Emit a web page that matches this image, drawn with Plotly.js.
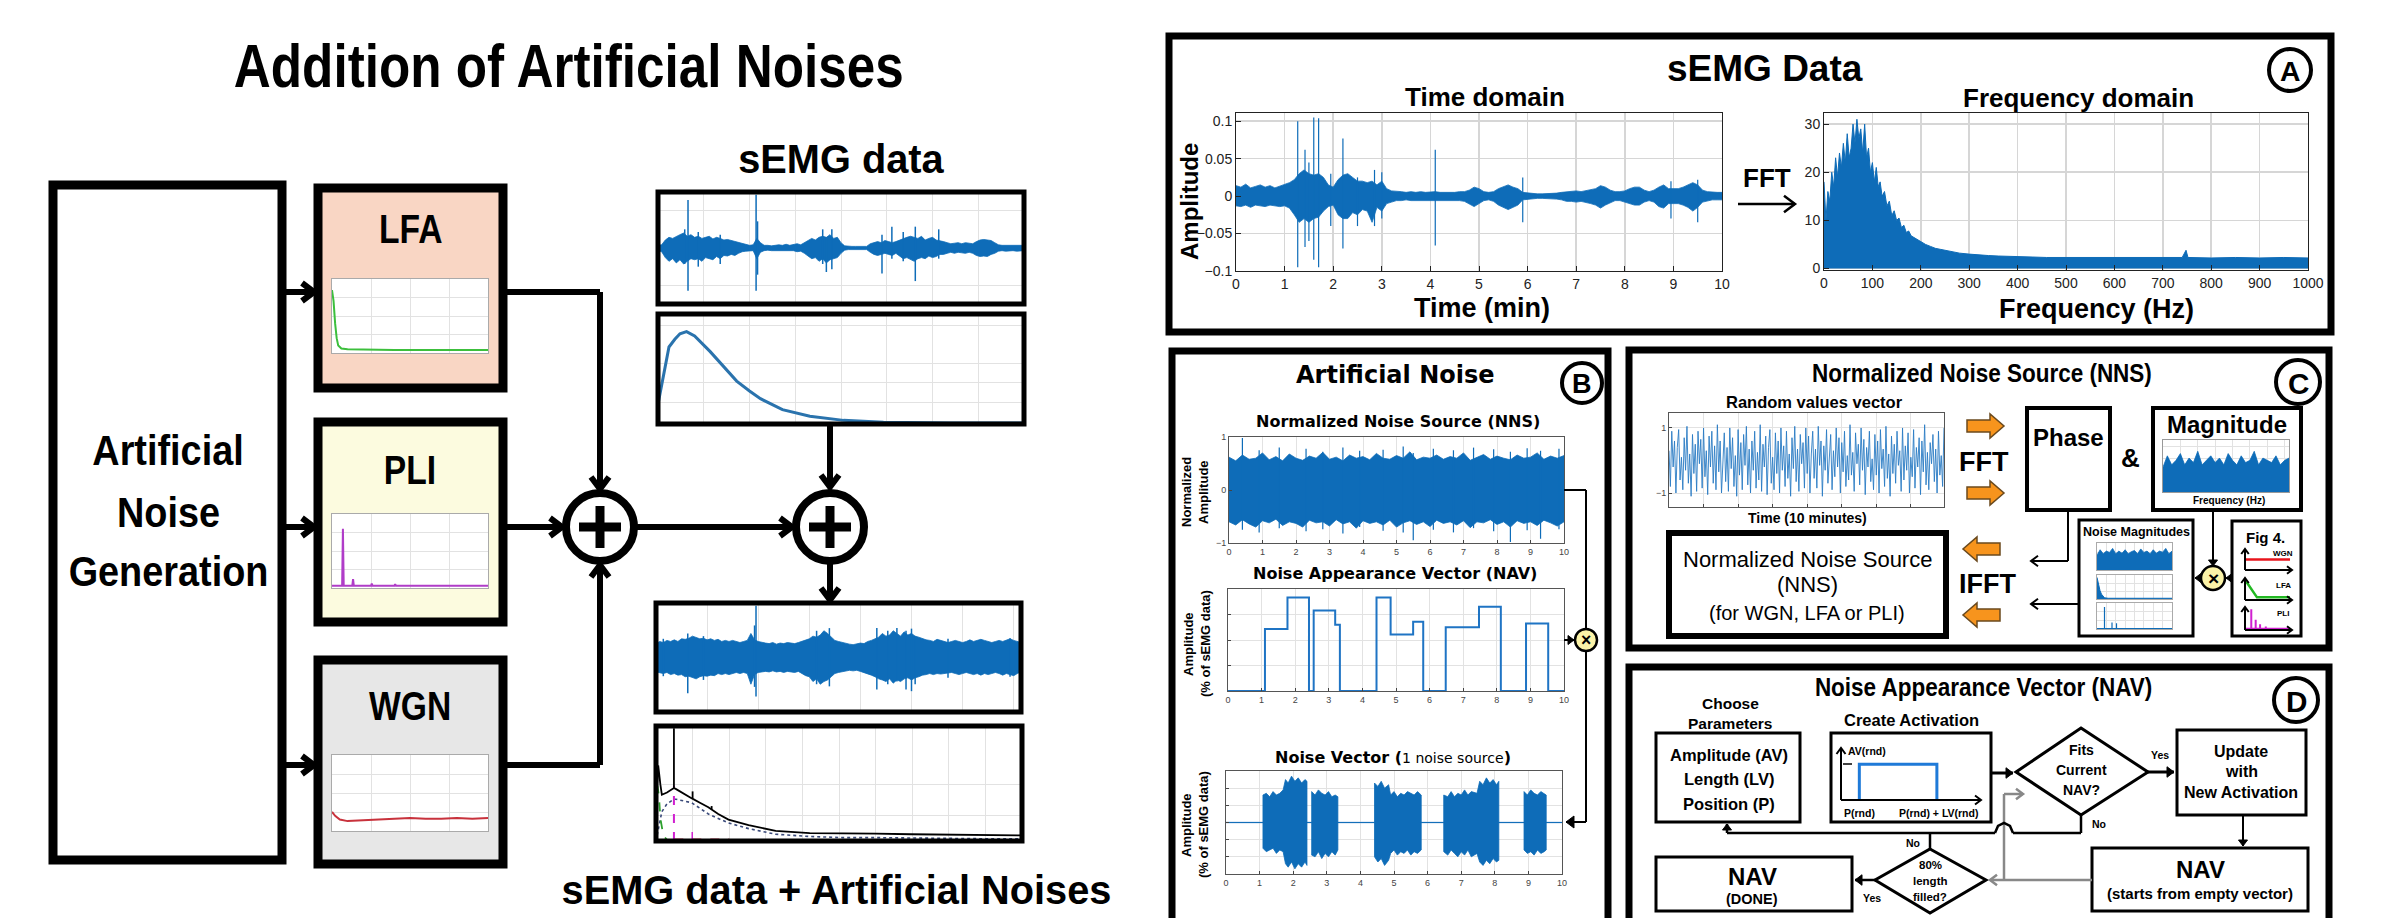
<!DOCTYPE html>
<html><head><meta charset="utf-8">
<script src="https://cdn.plot.ly/plotly-3.0.1.min.js"></script>
<style>html,body{margin:0;padding:0;background:#fff;}#chart{width:2386px;height:918px;}</style>
</head><body><div id="chart"></div>
<script>
// ---------------- DATA ----------------
// Panel A: sEMG time domain (envelope every 0.1 min) + isolated spikes
const aTimeHi=[0.014,0.012,0.016,0.011,0.013,0.015,0.012,0.014,0.011,0.013,0.015,
0.018,0.022,0.03,0.035,0.03,0.028,0.03,0.025,0.015,0.012,
0.022,0.028,0.03,0.025,0.02,0.02,0.018,0.02,0.015,0.02,
0.01,0.007,0.006,0.006,0.005,0.006,0.005,0.006,0.005,0.006,
0.006,0.005,0.005,0.004,0.005,0.006,0.006,0.008,0.012,0.01,
0.006,0.005,0.006,0.01,0.013,0.015,0.012,0.01,0.005,0.004,
0.003,0.003,0.003,0.003,0.003,0.004,0.005,0.006,0.007,0.007,
0.006,0.007,0.008,0.01,0.014,0.012,0.008,0.006,0.006,0.007,
0.01,0.012,0.012,0.008,0.006,0.008,0.012,0.015,0.01,0.01,
0.01,0.012,0.015,0.018,0.015,0.008,0.006,0.005,0.005,0.005];
const aTimeLo=[-0.013,-0.014,-0.012,-0.015,-0.012,-0.013,-0.014,-0.012,-0.013,-0.014,-0.013,
-0.016,-0.025,-0.035,-0.03,-0.035,-0.03,-0.028,-0.02,-0.014,-0.012,
-0.025,-0.03,-0.03,-0.022,-0.025,-0.018,-0.02,-0.035,-0.015,-0.02,
-0.01,-0.008,-0.006,-0.006,-0.005,-0.006,-0.006,-0.005,-0.006,-0.006,
-0.006,-0.005,-0.005,-0.005,-0.005,-0.006,-0.007,-0.01,-0.014,-0.01,
-0.006,-0.005,-0.007,-0.012,-0.015,-0.018,-0.015,-0.012,-0.005,-0.004,
-0.003,-0.003,-0.003,-0.003,-0.004,-0.004,-0.005,-0.007,-0.007,-0.008,
-0.007,-0.008,-0.01,-0.012,-0.016,-0.012,-0.009,-0.006,-0.006,-0.008,
-0.01,-0.012,-0.012,-0.008,-0.006,-0.008,-0.014,-0.016,-0.01,-0.01,
-0.01,-0.012,-0.015,-0.02,-0.015,-0.008,-0.006,-0.005,-0.005,-0.005];
const aSpikeX=[1.27,1.42,1.5,1.6,1.7,1.95,2.2,2.5,2.85,3.0,4.1,5.9,8.95,9.5];
const aSpikeHi=[0.1,0.062,0.045,0.105,0.104,0.03,0.077,0.025,0.035,0.032,0.062,0.025,0.02,0.022];
const aSpikeLo=[-0.095,-0.068,-0.06,-0.085,-0.095,-0.04,-0.07,-0.04,-0.04,-0.03,-0.066,-0.035,-0.03,-0.035];
const aTimeYTicks=[-0.1,-0.05,0,0.05,0.1];
// Panel A: frequency domain
const aFreqX=[0,4,8,12,16,20,24,28,32,36,40,44,48,52,56,60,64,68,72,76,80,84,88,92,96,100,104,108,112,116,120,125,130,135,140,145,150,155,160,165,170,175,180,190,200,210,220,230,240,250,265,280,300,320,340,360,380,400,430,460,500,540,580,620,660,700,740,748,752,800,850,900,950,1000];
const aFreqY=[18,10,16,14,20,17,23,19,24,21,26,22,28,23,25,30,26,31,27,29,24,30,23,25,20,22,18,21,17,18,15,16,13,14,11,12,10,10.5,8.5,9,7.5,7.8,6.8,6.2,5.5,5,4.6,4.2,4.0,3.8,3.4,3.2,3.0,2.8,2.7,2.6,2.5,2.5,2.4,2.3,2.3,2.2,2.2,2.3,2.2,2.3,2.3,3.8,2.3,2.2,2.3,2.2,2.3,2.2];
const aFreqYTicks=[0,10,20,30];
// Left: sEMG data (time, envelope every 0.1) + spikes
const semgHi=[0.05,0.06,0.15,0.2,0.18,0.22,0.25,0.28,0.22,0.25,
0.2,0.22,0.18,0.2,0.22,0.17,0.2,0.18,0.15,0.16,
0.14,0.12,0.1,0.08,0.06,0.05,0.06,0.18,0.1,0.05,
0.05,0.04,0.05,0.06,0.05,0.07,0.05,0.06,0.08,0.06,
0.1,0.14,0.18,0.15,0.2,0.22,0.2,0.25,0.18,0.2,
0.1,0.04,0.03,0.03,0.03,0.03,0.04,0.03,0.08,0.1,
0.12,0.1,0.14,0.12,0.1,0.12,0.15,0.18,0.2,0.22,
0.2,0.18,0.22,0.15,0.18,0.2,0.15,0.14,0.12,0.1,
0.08,0.09,0.1,0.08,0.1,0.09,0.08,0.12,0.15,0.16,
0.15,0.14,0.1,0.06,0.05,0.05,0.06,0.05,0.05,0.06,0.05];
const semgLo=[-0.05,-0.07,-0.18,-0.25,-0.2,-0.28,-0.22,-0.3,-0.25,-0.2,
-0.22,-0.2,-0.25,-0.18,-0.2,-0.22,-0.16,-0.2,-0.14,-0.15,
-0.12,-0.14,-0.1,-0.07,-0.06,-0.05,-0.05,-0.2,-0.08,-0.05,
-0.04,-0.05,-0.05,-0.05,-0.06,-0.05,-0.06,-0.05,-0.07,-0.06,
-0.1,-0.15,-0.2,-0.18,-0.25,-0.2,-0.28,-0.22,-0.2,-0.18,
-0.1,-0.04,-0.03,-0.03,-0.03,-0.04,-0.03,-0.03,-0.08,-0.12,
-0.14,-0.12,-0.1,-0.12,-0.14,-0.1,-0.15,-0.2,-0.18,-0.22,
-0.25,-0.2,-0.18,-0.2,-0.15,-0.18,-0.16,-0.12,-0.12,-0.1,
-0.08,-0.1,-0.08,-0.09,-0.1,-0.08,-0.1,-0.14,-0.16,-0.15,
-0.16,-0.12,-0.1,-0.06,-0.05,-0.06,-0.05,-0.05,-0.06,-0.05,-0.05];
const semgSpkX=[0.73,0.82,2.68,2.72,4.5,4.75,4.6,6.12,6.39,6.7,7.03,7.67,1.1,1.7];
const semgSpkHi=[0.35,0.9,1.0,0.5,0.35,0.35,0.2,0.25,0.4,0.3,0.4,0.35,0.3,0.25];
const semgSpkLo=[-0.3,-0.8,-0.8,-0.5,-0.3,-0.4,-0.45,-0.48,-0.2,-0.25,-0.62,-0.2,-0.35,-0.3];
// Left: sEMG spectrum
const semgFx=[0,0.01,0.02,0.03,0.046,0.06,0.078,0.1,0.142,0.18,0.215,0.25,0.28,0.34,0.415,0.507,0.616,0.8,1.0];
const semgFy=[0.18,0.35,0.55,0.7,0.77,0.82,0.84,0.8,0.66,0.52,0.39,0.3,0.23,0.13,0.07,0.033,0.015,0.01,0.01];
// Left: sEMG + artificial noises (time, envelope every 0.1) + spikes
const outHi=[0.26,0.3,0.28,0.32,0.3,0.33,0.3,0.35,0.34,0.36,
0.4,0.38,0.35,0.36,0.33,0.35,0.32,0.34,0.3,0.32,
0.3,0.32,0.3,0.28,0.3,0.32,0.45,0.33,0.3,0.28,
0.27,0.26,0.28,0.25,0.27,0.26,0.28,0.27,0.26,0.28,
0.3,0.32,0.35,0.4,0.38,0.42,0.5,0.45,0.38,0.32,
0.3,0.28,0.26,0.25,0.24,0.25,0.27,0.26,0.3,0.32,
0.35,0.38,0.45,0.4,0.42,0.5,0.45,0.4,0.48,0.42,
0.45,0.4,0.38,0.35,0.33,0.32,0.3,0.34,0.32,0.3,
0.28,0.3,0.32,0.3,0.28,0.3,0.33,0.3,0.32,0.34,
0.32,0.3,0.28,0.3,0.32,0.3,0.33,0.35,0.32,0.3,0.28];
const outLo=[-0.27,-0.28,-0.3,-0.28,-0.32,-0.3,-0.33,-0.32,-0.36,-0.35,
-0.38,-0.4,-0.36,-0.34,-0.35,-0.33,-0.34,-0.3,-0.32,-0.3,
-0.32,-0.3,-0.28,-0.3,-0.28,-0.3,-0.5,-0.32,-0.28,-0.27,
-0.26,-0.27,-0.25,-0.27,-0.26,-0.28,-0.26,-0.27,-0.28,-0.26,
-0.3,-0.34,-0.36,-0.45,-0.4,-0.5,-0.45,-0.42,-0.36,-0.3,
-0.28,-0.27,-0.25,-0.24,-0.25,-0.24,-0.26,-0.28,-0.3,-0.33,
-0.36,-0.4,-0.42,-0.45,-0.4,-0.48,-0.42,-0.45,-0.4,-0.38,
-0.42,-0.38,-0.36,-0.33,-0.32,-0.3,-0.32,-0.3,-0.31,-0.3,
-0.3,-0.28,-0.3,-0.32,-0.3,-0.28,-0.3,-0.32,-0.3,-0.33,
-0.3,-0.32,-0.3,-0.28,-0.3,-0.33,-0.3,-0.32,-0.34,-0.3,-0.27];
const outSpkX=[0.87,2.74,2.7,4.4,4.75,6.05,6.35,6.6,6.85,7.0,7.1,0.2,1.3,8.0,9.7];
const outSpkHi=[0.45,0.97,0.6,0.5,0.55,0.55,0.5,0.55,0.5,0.54,0.4,0.35,0.4,0.35,0.36];
const outSpkLo=[-0.67,-0.73,-0.55,-0.5,-0.54,-0.6,-0.5,-0.45,-0.6,-0.63,-0.5,-0.35,-0.42,-0.38,-0.36];
// Left: sEMG + artificial noises (spectrum)
const ofX=[0,0.006,0.012,0.016,0.03,0.045,0.049,0.055,0.07,0.097,0.12,0.143,0.17,0.198,0.253,0.327,0.42,0.51,0.6,0.696,0.8,0.9,1.0];
const ofBlack=[0.3,0.67,0.5,0.41,0.43,0.46,0.47,0.46,0.43,0.38,0.34,0.3,0.24,0.19,0.14,0.09,0.07,0.07,0.065,0.06,0.055,0.05,0.05];
const ofGray=[0.0,0.1,0.2,0.26,0.33,0.36,0.37,0.37,0.36,0.34,0.29,0.24,0.2,0.16,0.11,0.06,0.04,0.03,0.03,0.025,0.025,0.02,0.02];
const ofSpkX=[0.049,0.1,0.152], ofSpkHi=[1.0,0.44,0.31], ofSpkLo=[0.47,0.38,0.28];
const ofGreenX=[0,0.004,0.008,0.012,0.02,0.03];
const ofGreenY=[0.0,0.49,0.4,0.2,0.05,0.01];
const ofPliX=[0.049,0.049], ofPliY=[0,0.49];
const ofPli2X=[0.099,0.099], ofPli2Y=[0,0.08];
const ofFloorX=[0.05,0.2], ofFloorY=[0.015,0.015];
// Left mini spectra (LFA, PLI, WGN)
const lfaX=[0,0.01,0.02,0.03,0.04,0.06,0.1,0.2,0.4,0.6,0.8,1.0];
const lfaY=[0.85,0.7,0.4,0.2,0.1,0.06,0.05,0.045,0.04,0.04,0.04,0.04];
const pliX=[0,0.065,0.07,0.075,0.13,0.135,0.14,0.25,0.255,0.26,0.4,0.405,0.41,0.6,0.605,0.61,1.0];
const pliY=[0.03,0.03,0.8,0.03,0.03,0.12,0.03,0.03,0.06,0.03,0.03,0.05,0.03,0.03,0.04,0.03,0.03];
const wgnX=[0,0.02,0.05,0.1,0.2,0.3,0.4,0.5,0.6,0.7,0.8,0.9,1.0];
const wgnY=[0.25,0.2,0.15,0.13,0.14,0.15,0.16,0.17,0.16,0.16,0.17,0.16,0.17];
// Panel B: NNS envelope (every 0.2 min) + spikes
const nnsHi=[0.62,0.55,0.66,0.58,0.6,0.7,0.57,0.63,0.55,0.68,0.6,0.56,0.64,0.6,0.71,0.58,0.62,0.55,0.66,0.6,0.63,0.57,0.69,0.6,0.58,0.65,0.6,0.72,0.57,0.62,0.6,0.66,0.58,0.63,0.6,0.7,0.56,0.62,0.67,0.58,0.64,0.6,0.57,0.66,0.6,0.62,0.7,0.58,0.64,0.6,0.65];
const nnsLo=[-0.6,-0.66,-0.56,-0.64,-0.7,-0.58,-0.62,-0.55,-0.67,-0.6,-0.63,-0.7,-0.57,-0.62,-0.6,-0.68,-0.56,-0.64,-0.6,-0.72,-0.58,-0.63,-0.6,-0.66,-0.57,-0.7,-0.62,-0.58,-0.65,-0.6,-0.69,-0.57,-0.63,-0.6,-0.66,-0.58,-0.71,-0.6,-0.62,-0.56,-0.65,-0.6,-0.7,-0.58,-0.63,-0.6,-0.67,-0.57,-0.62,-0.68,-0.6];
const nnsSpkX=[0.4,0.9,1.5,2.3,2.8,3.4,3.9,4.6,5.2,5.5,6.1,6.7,7.3,7.9,8.4,8.9,9.3,9.85];
const nnsSpkHi=[0.98,0.75,0.8,0.78,0.72,0.8,0.74,0.76,0.82,0.7,0.78,0.75,0.8,0.77,0.72,0.79,0.74,0.78];
const nnsSpkLo=[-0.75,-0.8,-0.72,-0.78,-0.74,-0.82,-0.7,-0.77,-0.8,-0.95,-0.75,-0.8,-0.72,-0.78,-0.98,-0.76,-0.92,-0.74];
// Panel B: NAV (step function)
const navX=[0,1.1,1.77,2.41,2.55,3.19,3.33,4.42,4.84,5.51,5.81,6.48,7.47,8.12,8.87,9.53,10];
const navY=[0,2.43,3.67,0,3.16,2.6,0,3.67,2.22,2.72,0,2.5,3.3,0,2.65,0,0];
// Panel B: noise vector envelope
const nvX=[0,1.1,1.1,1.2,1.3,1.4,1.5,1.6,1.7,1.77,1.85,1.95,2.05,2.15,2.25,2.35,2.41,2.41,2.55,2.55,2.65,2.75,2.85,2.95,3.05,3.15,3.25,3.33,3.33,4.42,4.42,4.52,4.62,4.72,4.84,4.9,5.0,5.1,5.2,5.3,5.4,5.5,5.6,5.7,5.81,5.81,6.48,6.48,6.6,6.7,6.8,6.9,7.0,7.1,7.2,7.3,7.47,7.55,7.65,7.75,7.85,7.95,8.05,8.12,8.12,8.87,8.87,8.97,9.07,9.17,9.27,9.37,9.47,9.53,9.53,10];
const nvHi=[0,0,1.6,1.7,1.5,1.8,1.6,1.7,1.9,2.5,2.3,2.7,2.4,2.6,2.3,2.5,2.4,0,0,1.8,1.6,1.9,1.7,1.6,1.8,1.5,1.6,1.5,0,0,2.3,2.1,2.4,2.0,2.2,1.6,1.8,1.5,1.7,1.6,1.8,1.7,1.6,1.8,1.6,0,0,1.6,1.5,1.8,1.5,1.7,1.6,1.9,1.6,1.8,1.7,2.4,2.2,2.6,2.3,2.5,2.2,2.4,0,0,1.8,1.6,1.9,1.7,1.6,1.8,1.7,1.6,0,0];
const nvLo=[0,0,-1.5,-1.7,-1.6,-1.5,-1.8,-1.6,-1.7,-2.4,-2.6,-2.3,-2.7,-2.4,-2.6,-2.3,-2.5,0,0,-1.9,-2.0,-1.7,-2.1,-1.8,-2.0,-1.7,-1.9,-1.6,0,0,-2.0,-2.3,-2.1,-2.5,-2.2,-1.8,-1.6,-1.9,-1.7,-1.8,-1.6,-1.9,-1.7,-1.8,-1.6,0,0,-1.7,-1.9,-1.6,-1.8,-2.0,-1.7,-1.9,-1.6,-2.0,-1.8,-2.3,-2.5,-2.2,-2.4,-2.1,-2.3,-2.2,0,0,-1.6,-1.8,-1.7,-1.9,-1.6,-1.8,-1.7,-1.6,0,0];
// Panel C: random values vector
const rvY=[0.3,-0.8,0.9,-0.2,0.6,-1.0,0.4,0.95,-0.6,0.1,-0.9,0.7,-0.3,1.05,-0.7,0.2,-1.1,0.8,-0.4,0.5,-0.95,0.9,-0.1,0.65,-0.85,1.0,-0.5,0.3,-1.05,0.75,-0.2,0.9,-0.7,0.45,-0.9,1.1,-0.35,0.6,-1.0,0.2,0.85,-0.65,0.4,-0.95,1.0,-0.25,0.7,-0.8,0.15,-1.1,0.95,-0.45,0.55,-0.9,0.8,-0.15,1.05,-0.75,0.35,-1.0,0.6,-0.3,0.9,-0.85,0.25,-0.6,1.1,-0.95,0.5,-0.2,0.75,-1.05,0.4,0.95,-0.7,0.1,-0.9,0.85,-0.4,0.6,-1.0,1.0,-0.3,0.45,-0.8,0.9,-0.55,0.2,-1.1,0.7,-0.25,1.05,-0.65,0.35,-0.95,0.8,-0.1,0.55,-0.85,1.0,
-0.4,0.75,-1.0,0.2,0.9,-0.55,0.35,-0.85,1.05,-0.15,0.6,-1.1,0.45,-0.3,0.95,-0.7,0.1,0.8,-0.9,0.3,-0.5,1.0,-0.2,0.7,-1.0,0.55,-0.35,0.9,-0.8,0.15,-0.6,1.1,-0.45,0.25,-0.95,0.85,-0.1,0.5,-0.75,1.0,-0.3,0.65,-1.05,0.4,-0.2,0.9,-0.65,0.05,-0.9,0.8,-0.45,0.6,-1.0,0.95,-0.25,0.35,-0.8,1.05,-0.55,0.2,-1.1,0.75,-0.4,0.5,-0.7,0.9,-0.15,0.3,-0.95,1.0,-0.6,0.45,-0.3,0.85,-1.0,0.1,-0.5,0.95,-0.85,0.4,-0.2,0.7,-1.05,0.6,-0.35,1.1,-0.75,0.25,-0.9,0.55,-0.1,0.8,-0.65,0.35,-1.0,0.9,-0.45,0.15,-0.8,1.0];
const rvYTicks=[-1,1];
// Panel C: magnitude and noise magnitudes
const magHi=[0.55,0.8,0.6,0.7,0.85,0.6,0.75,0.65,0.9,0.6,0.7,0.8,0.65,0.75,0.6,0.85,0.7,0.6,0.8,0.65,0.7,0.9,0.6,0.75,0.7,0.65,0.8,0.6,0.7,0.75];
const nm1Y=[0.55,0.75,0.6,0.7,0.65,0.8,0.6,0.7,0.62,0.75,0.6,0.68,0.72,0.6,0.78,0.65,0.7,0.6,0.75,0.62,0.7,0.66,0.8,0.6,0.7];
const nm2X=[0,0.02,0.04,0.06,0.08,0.1,0.15,0.3,0.5,0.7,0.9,1];
const nm2Y=[0.9,0.6,0.35,0.2,0.1,0.05,0.03,0.03,0.03,0.03,0.03,0.03];
const nm3X=[0,0.1,0.1,0.1,0.2,0.2,0.2,0.26,0.26,0.26,1];
const nm3Y=[0.02,0.02,0.85,0.02,0.02,0.25,0.02,0.02,0.22,0.02,0.02];
// Panel C: Fig 4 shapes
const f4wX=[0,1], f4wY=[0.5,0.5];
const f4lX=[0,0.25,1], f4lY=[0.85,0.12,0.12];
const f4pX=[0,0.12,0.12,0.12,0.22,0.22,0.22,0.32,0.32,0.32,0.45,0.45,0.45,1];
const f4pY=[0.05,0.05,0.9,0.05,0.05,0.45,0.05,0.05,0.25,0.05,0.05,0.15,0.05,0.05];
// Panel D: activation pulse
const actX=[0.13,0.13,0.68,0.68], actY=[0,0.65,0.65,0];

// ---------------- HELPERS ----------------
const W=2386,H=918;
const X=p=>p/W, Y=p=>1-p/H;
const FA='"Liberation Sans",Arial,sans-serif';
const FN=FA;
const FV='"DejaVu Sans",Verdana,sans-serif';
const BLUE='#0e6cb8';
const shapes=[],ann=[],data=[],squeeze={};
const layout={width:W,height:H,margin:{l:0,r:0,t:0,b:0,pad:0},paper_bgcolor:'#fff',plot_bgcolor:'rgba(0,0,0,0)',showlegend:false,shapes:shapes,annotations:ann};
function rect(l,t,r,b,o={}){shapes.push({type:'rect',xref:'paper',yref:'paper',x0:X(l),x1:X(r),y0:Y(b),y1:Y(t),line:{color:o.c||'#000',width:o.w===undefined?3:o.w},fillcolor:o.fill||'rgba(0,0,0,0)',layer:o.layer||'above'});}
function seg(x1,y1,x2,y2,o={}){shapes.push({type:'line',xref:'paper',yref:'paper',x0:X(x1),y0:Y(y1),x1:X(x2),y1:Y(y2),line:{color:o.c||'#000',width:o.w||3,dash:o.dash||'solid'},layer:'above'});}
function poly(pts,o={}){const d=pts.map((p,i)=>(i?'L':'M')+X(p[0]).toFixed(6)+','+Y(p[1]).toFixed(6)).join(' ')+(o.close?' Z':'');shapes.push({type:'path',xref:'paper',yref:'paper',path:d,line:{color:o.c||'#000',width:o.w===undefined?3:o.w},fillcolor:o.fill||'rgba(0,0,0,0)',layer:'above'});}
function circ(cx,cy,r,o={}){shapes.push({type:'circle',xref:'paper',yref:'paper',x0:X(cx-r),x1:X(cx+r),y0:Y(cy+r),y1:Y(cy-r),line:{color:o.c||'#000',width:o.w||3},fillcolor:o.fill||'rgba(0,0,0,0)',layer:'above'});}
function head(tx,ty,dir,s,o={}){const v={r:[1,0],l:[-1,0],u:[0,-1],d:[0,1]}[dir];const bx=tx-v[0]*s,by=ty-v[1]*s,px=-v[1],py=v[0],k=o.k||0.75;const p1=[bx+px*s*k,by+py*s*k],p2=[bx-px*s*k,by-py*s*k];if(o.fill)poly([p1,[tx,ty],p2],{close:true,fill:o.c||'#000',c:o.c||'#000',w:1});else poly([p1,[tx,ty],p2],{c:o.c||'#000',w:o.w||3});}
function arrow(x1,y1,x2,y2,dir,o={}){seg(x1,y1,x2,y2,o);head(x2,y2,dir,o.s||10,o);}
function txt(x,y,t,size,o={}){if(o.sx)squeeze[ann.length]=o.sx;ann.push({xref:'paper',yref:'paper',x:X(x),y:Y(y),text:t,showarrow:false,xanchor:o.xa||'center',yanchor:o.ya||'middle',textangle:o.rot||0,font:{family:o.f||FN,size:size,color:o.c||'#000',weight:o.b===false?400:700}});}
function letter(cx,cy,r,L){circ(cx,cy,r,{w:4});txt(cx,cy+1,L,r*1.35,{f:FA});}
function block(x1,x2,y,dir){const hl=14,sh=6,hh=12;let p;if(dir==='r')p=[[x1,y-sh],[x2-hl,y-sh],[x2-hl,y-hh],[x2,y],[x2-hl,y+hh],[x2-hl,y+sh],[x1,y+sh]];else p=[[x2,y-sh],[x1+hl,y-sh],[x1+hl,y-hh],[x1,y],[x1+hl,y+hh],[x1+hl,y+sh],[x2,y+sh]];poly(p,{close:true,fill:'#f7941d',c:'#6b4a1e',w:1.5});}
function times(cx,cy,r){circ(cx,cy,r,{w:2.5,fill:'#fbf3a8'});txt(cx,cy,'×',r*1.6,{f:FA});}
function plus(cx,cy){circ(cx,cy,34,{w:8});seg(cx,cy-21,cx,cy+21,{w:9});seg(cx-21,cy,cx+21,cy,{w:9});}
let nAx=0;
const AXB={showline:true,mirror:true,linecolor:'#333',linewidth:1,ticks:'',showgrid:true,gridcolor:'#e2e2e2',gridwidth:1,zeroline:false,showticklabels:false,fixedrange:true};
function axes(box,xo,yo){nAx++;const s=nAx===1?'':nAx;layout['xaxis'+s]=Object.assign({},AXB,{domain:[X(box[0]),X(box[2])],anchor:'y'+s},xo||{});layout['yaxis'+s]=Object.assign({},AXB,{domain:[Y(box[3]),Y(box[1])],anchor:'x'+s},yo||{});return {xaxis:'x'+s,yaxis:'y'+s};}
function line(ax,x,y,color,w,o={}){data.push(Object.assign({type:'scatter',mode:'lines',x:x,y:y,line:{color:color,width:w,dash:o.dash||'solid',shape:o.shape||'linear'},hoverinfo:'skip'},ax));}
function bandD(ax,x0,dx,hi,lo,color){data.push(Object.assign({type:'scatter',mode:'lines',x0:x0,dx:dx,y:lo,line:{color:color,width:0.8},hoverinfo:'skip'},ax));data.push(Object.assign({type:'scatter',mode:'lines',x0:x0,dx:dx,y:hi,fill:'tonexty',fillcolor:color,line:{color:color,width:0.8},hoverinfo:'skip'},ax));}
function bandX(ax,x,hi,lo,color){data.push(Object.assign({type:'scatter',mode:'lines',x:x,y:lo,line:{color:color,width:0.8},hoverinfo:'skip'},ax));data.push(Object.assign({type:'scatter',mode:'lines',x:x,y:hi,fill:'tonexty',fillcolor:color,line:{color:color,width:0.8},hoverinfo:'skip'},ax));}
function spikes(ax,xs,hi,lo,color,w){const x=[],y=[];xs.forEach((v,i)=>{x.push(v,v,null);y.push(hi[i],lo[i],null);});data.push(Object.assign({type:'scatter',mode:'lines',x:x,y:y,line:{color:color,width:w},connectgaps:false,hoverinfo:'skip'},ax));}

// ---------------- LEFT FIGURE ----------------
txt(569,66,'Addition of Artificial Noises',61,{sx:0.84});
rect(53,185,282,860,{w:9});
txt(168,450,'Artificial',43,{sx:0.88});txt(168,512,'Noise',43,{sx:0.88});txt(168,571,'Generation',43,{sx:0.88});
arrow(282,292,314,292,'r',{w:6,s:12});
arrow(282,527,314,527,'r',{w:6,s:12});
arrow(282,765,314,765,'r',{w:6,s:12});
rect(318,188,503,388,{w:9,fill:'#f9d6c4',layer:'below'});
rect(318,422,503,622,{w:9,fill:'#fcfbdf',layer:'below'});
rect(318,660,503,864,{w:9,fill:'#e7e7e7',layer:'below'});
rect(332,279,488,353,{w:0,fill:'#fff',layer:'below'});
rect(332,514,488,588,{w:0,fill:'#fff',layer:'below'});
rect(332,755,488,831,{w:0,fill:'#fff',layer:'below'});
txt(410,229,'LFA',41,{sx:0.82});txt(410,470,'PLI',41,{sx:0.82});txt(410,706,'WGN',41,{sx:0.82});
const miniX={range:[0,1],dtick:0.25,linecolor:'#aaa'}, miniY={range:[0,1],dtick:0.25,linecolor:'#aaa'};
let a=axes([332,279,488,353],miniX,miniY); line(a,lfaX,lfaY,'#3cbf3c',2);
a=axes([332,514,488,588],miniX,miniY); line(a,pliX,pliY,'#b03cc8',2);
a=axes([332,755,488,831],miniX,miniY); line(a,wgnX,wgnY,'#c8323c',2);
seg(503,292,600,292,{w:6});arrow(600,292,600,489,'d',{w:6,s:12});
arrow(503,527,562,527,'r',{w:6,s:12});
seg(503,765,600,765,{w:6});arrow(600,765,600,565,'u',{w:6,s:12});
plus(600,527);
arrow(634,527,792,527,'r',{w:6,s:12});
plus(830,527);
txt(841,159,'sEMG data',41,{sx:0.97});
const lx={range:[0,10],dtick:1.25,showline:false}, ly={range:[-1.05,1.05],dtick:0.7,showline:false};
a=axes([658,192,1024,304],lx,ly); bandD(a,0,0.1,semgHi,semgLo,BLUE); spikes(a,semgSpkX,semgSpkHi,semgSpkLo,BLUE,1.5);
a=axes([658,314,1024,424],{range:[0,1],dtick:0.125,showline:false},{range:[0,1],tickvals:[0.2,0.38,0.55,0.9],showline:false}); line(a,semgFx,semgFy,'#2a73ad',3);
rect(658,192,1024,304,{w:5});rect(658,314,1024,424,{w:5});
arrow(830,424,830,487,'d',{w:6,s:12});
arrow(830,563,830,600,'d',{w:6,s:12});
a=axes([656,603,1021,712],{range:[0,10],dtick:1.4,showline:false},{range:[-1.02,1.02],dtick:2,showline:false}); bandD(a,0,0.1,outHi,outLo,BLUE); spikes(a,outSpkX,outSpkHi,outSpkLo,BLUE,1.5);
a=axes([656,726,1022,841],{range:[0,1],dtick:0.1,showline:false},{range:[0,1.02],tickvals:[0.23,0.5],showline:false});
line(a,ofX,ofGray,'#3a4a7a',1.6,{dash:'dot'});
line(a,ofFloorX,ofFloorY,'#d03a5a',1.6,{dash:'dash'});
line(a,ofGreenX,ofGreenY,'#2ca02c',1.8,{dash:'dash'});
line(a,ofPliX,ofPliY,'#d020d0',2,{dash:'dash'});
line(a,ofPli2X,ofPli2Y,'#d020d0',1.5,{dash:'dash'});
line(a,ofX,ofBlack,'#000',1.8);
spikes(a,ofSpkX,ofSpkHi,ofSpkLo,'#000',1.8);
rect(656,603,1021,712,{w:5});rect(656,726,1022,841,{w:5});
txt(836,890,'sEMG data + Artificial Noises',41,{sx:0.97});

// ---------------- PANEL A ----------------
rect(1169,36,2331,332,{w:7});
txt(1765,68,'sEMG Data',37);
letter(2290,70,21,'A');
txt(1485,97,'Time domain',26);
txt(2078,98,'Frequency domain',26);
txt(1190,202,'Amplitude',24,{f:FA,rot:-90});
const tickA={showticklabels:true,ticks:'inside',ticklen:5,tickcolor:'#222',tickfont:{family:FA,size:14,color:'#222'},gridcolor:'#d6d6d6',gridwidth:1.5,linecolor:'#222'};
a=axes([1236,113,1722,271],Object.assign({},tickA,{range:[0,10],dtick:1}),Object.assign({},tickA,{range:[-0.1,0.111],tickvals:aTimeYTicks}));
bandD(a,0,0.1,aTimeHi,aTimeLo,BLUE); spikes(a,aSpikeX,aSpikeHi,aSpikeLo,BLUE,1.2);
a=axes([1824,113,2308,270],Object.assign({},tickA,{range:[0,1000],dtick:100}),Object.assign({},tickA,{range:[-0.3,32.3],tickvals:aFreqYTicks}));
data.push(Object.assign({type:'scatter',mode:'lines',x:aFreqX,y:aFreqY,fill:'tozeroy',fillcolor:BLUE,line:{color:BLUE,width:1},hoverinfo:'skip'},a));
txt(1767,178,'FFT',26);
arrow(1738,204,1795,204,'r',{w:2.5,s:11});
txt(1482,308,'Time (min)',27);
txt(2096,309,'Frequency (Hz)',27);

// ---------------- PANEL B ----------------
rect(1172,351,1608,960,{w:7});
txt(1395,375,'Artificial Noise',24,{f:FV});
letter(1582,383,20,'B');
txt(1398,421,'Normalized Noise Source (NNS)',16,{f:FV});
const tickB={showticklabels:true,ticks:'inside',ticklen:3,tickcolor:'#444',tickfont:{family:FA,size:9,color:'#444'},linecolor:'#555'};
a=axes([1229,437,1564,543],Object.assign({},tickB,{range:[0,10],dtick:1}),Object.assign({},tickB,{range:[-1,1],tickvals:[-1,0,1]}));
bandD(a,0,0.2,nnsHi,nnsLo,BLUE); spikes(a,nnsSpkX,nnsSpkHi,nnsSpkLo,BLUE,1.2);
txt(1186,492,'Normalized',13,{f:FA,rot:-90});txt(1203,492,'Amplitude',13,{f:FA,rot:-90});
txt(1395,573,'Noise Appearance Vector (NAV)',16,{f:FV});
a=axes([1228,589,1564,691],Object.assign({},tickB,{range:[0,10],dtick:1}),Object.assign({},tickB,{range:[0,4],dtick:1,showticklabels:false}));
line(a,navX,navY,'#1f74c4',2,{shape:'hv'});
txt(1188,644,'Amplitude',13,{f:FA,rot:-90});txt(1205,644,'(% of sEMG data)',13,{f:FA,rot:-90});
ann.push({xref:'paper',yref:'paper',x:X(1393),y:Y(757),showarrow:false,xanchor:'center',yanchor:'middle',text:'<b>Noise Vector (</b><span style="font-size:14px">1 noise source</span><b>)</b>',font:{family:FV,size:16,color:'#000'}});
a=axes([1226,771,1562,874],Object.assign({},tickB,{range:[0,10],dtick:1}),Object.assign({},tickB,{range:[-3,3],dtick:1,showticklabels:false}));
line(a,[0,10],[0,0],'#8ab4de',1.5);
bandX(a,nvX,nvHi,nvLo,BLUE);
txt(1186,825,'Amplitude',13,{f:FA,rot:-90});txt(1203,825,'(% of sEMG data)',13,{f:FA,rot:-90});
seg(1564,490,1586,490,{w:2});seg(1586,490,1586,628,{w:2});
times(1586,640,11);
arrow(1564,640,1574,640,'r',{w:2,s:6,fill:true});
seg(1586,651,1586,822,{w:2});arrow(1586,822,1566,822,'l',{w:2,s:8,fill:true});

// ---------------- PANEL C ----------------
rect(1629,350,2329,648,{w:7});
txt(1982,373,'Normalized Noise Source (NNS)',25,{sx:0.9});
letter(2298,382,22,'C');
txt(1814,402,'Random values vector',16.5);
a=axes([1669,413,1944,507],Object.assign({},tickB,{range:[0,199],dtick:25,showticklabels:false}),Object.assign({},tickB,{range:[-1.43,1.46],tickvals:rvYTicks,dtick:0.5}));
line(a,undefined,rvY,'#2a7cc4',0.9);
txt(1807,518,'Time (10 minutes)',14);
block(1967,2004,426,'r');block(1967,2004,493,'r');
txt(1984,462,'FFT',27);
rect(2027,408,2110,510,{w:4});txt(2068,437,'Phase',24);
txt(2130,458,'&',26);
rect(2153,408,2301,510,{w:4});txt(2227,424,'Magnitude',24);
a=axes([2163,440,2289,492],{range:[0,29],dtick:4,linecolor:'#999'},{range:[0,1.15],dtick:0.25,linecolor:'#999'});
data.push(Object.assign({type:'scatter',mode:'lines',y:magHi,fill:'tozeroy',fillcolor:BLUE,line:{color:BLUE,width:0.8},hoverinfo:'skip'},a));
txt(2229,500,'Frequency (Hz)',10);
rect(1669,533,1946,636,{w:6});
txt(1807,559,'Normalized Noise Source',22,{b:false});txt(1807,584,'(NNS)',22,{b:false});txt(1807,613,'(for WGN, LFA or PLI)',20,{b:false});
block(1963,2000,549,'l');block(1963,2000,615,'l');
txt(1987,584,'IFFT',27);
seg(2068,510,2068,561,{w:2});arrow(2068,561,2031,561,'l',{w:2,s:7});
arrow(2079,604,2031,604,'l',{w:2,s:7});
rect(2079,520,2193,636,{w:3});txt(2136,532,'Noise Magnitudes',12.5);
a=axes([2097,543,2172,570],{range:[0,24],dtick:3,linecolor:'#aaa'},{range:[0,1],dtick:0.33,linecolor:'#aaa'});
data.push(Object.assign({type:'scatter',mode:'lines',y:nm1Y,fill:'tozeroy',fillcolor:BLUE,line:{color:BLUE,width:0.8},hoverinfo:'skip'},a));
a=axes([2097,575,2172,599],{range:[0,1],dtick:0.125,linecolor:'#aaa'},{range:[0,1],dtick:0.33,linecolor:'#aaa'});
data.push(Object.assign({type:'scatter',mode:'lines',x:nm2X,y:nm2Y,fill:'tozeroy',fillcolor:BLUE,line:{color:BLUE,width:1},hoverinfo:'skip'},a));
a=axes([2097,603,2172,629],{range:[0,1],dtick:0.125,linecolor:'#aaa'},{range:[0,1],dtick:0.33,linecolor:'#aaa'});
line(a,nm3X,nm3Y,BLUE,1.2);
times(2213,578,12);
seg(2213,510,2213,562,{w:2});head(2213,566,'d',6,{fill:true});
arrow(2200,578,2195,578,'l',{w:2,s:6,fill:true});
arrow(2232,578,2226,578,'l',{w:2,s:6,fill:true});
rect(2232,521,2301,636,{w:3});txt(2265,537,'Fig 4.',15);
const f4={range:[0,1],showline:false,showgrid:false};
const f4y={range:[0,1],showline:false,showgrid:false};
a=axes([2246,549,2290,570],f4,f4y); line(a,f4wX,f4wY,'#e8141c',2.5);
a=axes([2246,578,2290,600],f4,f4y); line(a,f4lX,f4lY,'#22b822',2.5);
a=axes([2246,607,2290,630],f4,f4y); line(a,f4pX,f4pY,'#d020d0',2);
[[549,570],[578,600],[607,630]].forEach(p=>{arrow(2245,p[1],2245,p[0],'u',{w:2,s:5});arrow(2245,p[1],2292,p[1],'r',{w:2,s:5});});
txt(2283,553,'WGN',8);txt(2283,585,'LFA',8);txt(2283,613,'PLI',8);

// ---------------- PANEL D ----------------
rect(1629,667,2329,960,{w:7});
txt(1983,687,'Noise Appearance Vector (NAV)',25,{sx:0.9});
letter(2296,700,22,'D');
txt(1730,703,'Choose',15.5);txt(1730,723,'Parameters',15.5);
txt(1911,720,'Create Activation',16.5);
rect(1656,733,1800,822,{w:3});
txt(1729,755,'Amplitude (AV)',16.5);txt(1729,779,'Length (LV)',16.5);txt(1729,804,'Position (P)',16.5);
rect(1831,733,1991,822,{w:3});
a=axes([1841,745,1982,800],{range:[0,1],showline:false,showgrid:false},{range:[0,1],showline:false,showgrid:false});
line(a,actX,actY,'#1f7ad8',3);
arrow(1841,800,1841,748,'u',{w:2,s:6});arrow(1841,800,1981,800,'r',{w:2,s:6});
seg(1843,764,1858,764,{w:1.5,dash:'dash'});
txt(1846,751,'AV(rnd)',10.5,{xa:'left'});
txt(1859,813,'P(rnd)',10.5);txt(1938,813,'P(rnd) + LV(rnd)',10.5);
poly([[2081,728],[2148,772],[2081,815],[2016,772]],{close:true,w:3});
txt(2081,750,'Fits',14);txt(2081,770,'Current',14);txt(2081,790,'NAV?',14);
arrow(1991,773,2013,773,'r',{w:3,s:7,fill:true});
txt(2160,755,'Yes',10.5);
arrow(2148,772,2174,772,'r',{w:3,s:7,fill:true});
rect(2177,730,2306,815,{w:3});
txt(2241,751,'Update',16);txt(2241,771,'with',16);txt(2241,792,'New Activation',16);
arrow(2243,815,2243,846,'d',{w:2,s:6,fill:true});
rect(2092,848,2308,911,{w:3});
txt(2200,869,'NAV',24);txt(2200,893,'(starts from empty vector)',15);
poly([[1930,849],[1986,880],[1930,913],[1875,880]],{close:true,w:3});
txt(1930,865,'80%',11.5);txt(1930,881,'length',11.5);txt(1930,897,'filled?',11.5);
arrow(2092,880,1990,880,'l',{w:2.5,s:7,c:'#888'});
seg(2004,880,2004,794,{w:2.5,c:'#888'});arrow(2004,794,2023,794,'r',{w:2.5,s:7,c:'#888'});
seg(2081,815,2081,833,{w:2.5});seg(2081,833,2013,833,{w:2.5});
poly([[2013,833],[2010,826],[2004,823],[1998,826],[1995,833]],{w:2.5});
seg(1995,833,1727,833,{w:2.5});arrow(1727,833,1727,824,'u',{w:2.5,s:6,fill:true});
txt(2099,824,'No',10.5);
seg(1930,849,1930,833,{w:2.5});txt(1913,843,'No',10.5);
arrow(1875,880,1855,880,'l',{w:2.5,s:7,fill:true});txt(1872,898,'Yes',10.5);
rect(1656,857,1852,911,{w:3});
txt(1752,876,'NAV',24);txt(1752,899,'(DONE)',14.5);

Plotly.newPlot('chart',data,layout,{staticPlot:true,displayModeBar:false}).then(function(){
  document.querySelectorAll('g.annotation').forEach(function(g){
    var i=+g.getAttribute('data-index'), s=squeeze[i];
    if(!s) return;
    var t=g.querySelector('text.annotation-text'); if(!t) return;
    var bb=t.getBBox(), cx=bb.x+bb.width/2;
    var ex=t.getAttribute('transform')||'';
    t.setAttribute('transform','translate('+(cx*(1-s))+',0) scale('+s+',1) '+ex);
  });
});
</script></body></html>
